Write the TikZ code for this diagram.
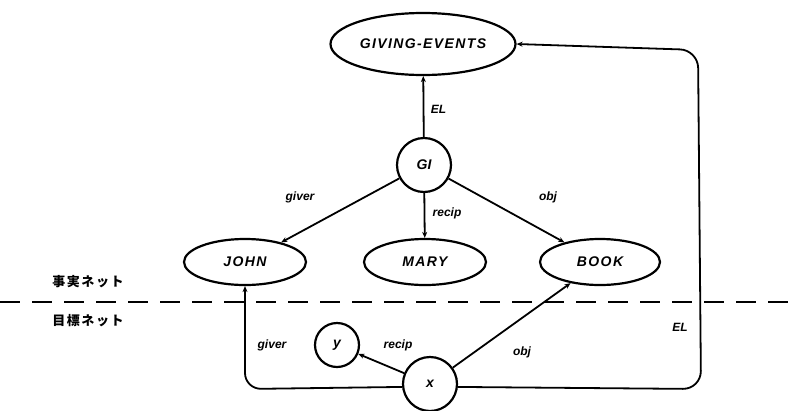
\documentclass[tikz,border=0pt]{standalone}
\usepackage{fontspec}
\setmainfont{Liberation Sans}
\newfontfamily\jpfont{Noto Sans CJK JP}
\usetikzlibrary{shapes.geometric,arrows.meta}
\begin{document}
\begin{tikzpicture}[x=1pt,y=-1pt,
  ell/.style={ellipse,draw,line width=2.2pt,inner sep=0pt,
    font=\fontsize{14}{16}\selectfont\bfseries\itshape\addfontfeature{LetterSpace=10}},
  circ/.style={circle,draw,line width=2.2pt,inner sep=0pt,
    font=\fontsize{14}{16}\selectfont\bfseries\itshape},
  edge/.style={line width=1.8pt,-{Stealth[length=6pt,width=5pt]}},
  lab/.style={font=\fontsize{12}{14}\selectfont\bfseries\itshape},
  jp/.style={font=\fontsize{13}{15}\selectfont\jpfont\bfseries\addfontfeature{LetterSpace=12}},
  sep/.style={line width=1.6pt,dash pattern=on 20pt off 12pt}
]
\useasboundingbox (0,0) rectangle (789,410);

\node[ell,minimum width=185pt,minimum height=62pt] (ge) at (423,44) {GIVING-EVENTS};
\node[circ,minimum size=54pt] (gi) at (424,165) {GI};
\node[ell,minimum width=122pt,minimum height=46pt] (john) at (245,262) {JOHN};
\node[ell,minimum width=122pt,minimum height=46pt] (mary) at (425,262) {MARY};
\node[ell,minimum width=120pt,minimum height=46pt] (book) at (600,262) {BOOK};
\node[circ,minimum size=44pt] (y) at (337,345) {y};
\node[circ,minimum size=54pt] (x) at (430,384) {x};

\node[jp] (fact) at (88,282) {事実ネット};
\node[jp] (goal) at (88,321) {目標ネット};
\coordinate (dl) at (0,302);
\coordinate (dr) at (789,302);
\draw[sep] (dl) -- (dr);

\draw[edge] (gi) -- (ge) node[lab,pos=0.45,right=3pt] {EL};
\draw[edge] (gi) -- (john);
\draw[edge] (gi) -- (mary);
\draw[edge] (gi) -- (book);
\node[lab] at (300,197) {giver};
\node[lab] at (447,213) {recip};
\node[lab] at (548,197) {obj};

\coordinate (c1) at (245,389);
\coordinate (c2) at (701,389);
\coordinate (c3) at (698,50);
\draw[edge,rounded corners=16pt] (x.186) -- (c1) -- (john.south);
\draw[edge,rounded corners=18pt] (x.354) -- (c2) -- (c3) -- (ge.east);
\draw[edge] (x) -- (y);
\draw[edge] (x) -- (book);
\node[lab] at (272,345) {giver};
\node[lab] at (398,345) {recip};
\node[lab] at (522,352) {obj};
\node[lab] at (680,327) {EL};
\end{tikzpicture}
\end{document}
